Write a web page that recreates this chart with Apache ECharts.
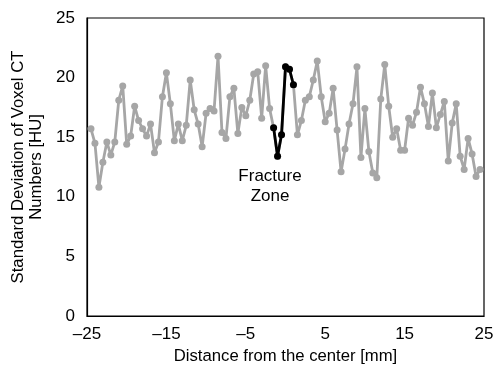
<!DOCTYPE html>
<html>
<head>
<meta charset="utf-8">
<script src="https://cdn.jsdelivr.net/npm/echarts@6/dist/echarts.min.js"></script>
<style>html,body{margin:0;padding:0;background:#fff;}#c{width:494px;height:367px;}</style>
</head>
<body>
<div id="c"></div>
<script>
var distances = [-24.5,-24,-23.5,-23,-22.5,-22,-21.5,-21,-20.5,-20,-19.5,-19,-18.5,-18,-17.5,-17,-16.5,-16,-15.5,-15,-14.5,-14,-13.5,-13,-12.5,-12,-11.5,-11,-10.5,-10,-9.5,-9,-8.5,-8,-7.5,-7,-6.5,-6,-5.5,-5,-4.5,-4,-3.5,-3,-2.5,-2,-1.5,-1,-0.5,0,0.5,1,1.5,2,2.5,3,3.5,4,4.5,5,5.5,6,6.5,7,7.5,8,8.5,9,9.5,10,10.5,11,11.5,12,12.5,13,13.5,14,14.5,15,15.5,16,16.5,17,17.5,18,18.5,19,19.5,20,20.5,21,21.5,22,22.5,23,23.5,24,24.5];
var stdDev = [15.7,14.5,10.8,12.9,14.6,13.5,14.6,18.1,19.3,14.4,15.1,17.6,16.4,15.7,15.1,16.1,13.7,14.6,18.4,20.4,17.8,14.7,16.1,14.7,16.0,19.8,17.3,16.1,14.2,17.0,17.4,17.2,21.8,15.4,14.9,18.4,19.1,15.3,17.5,16.8,18.1,20.3,20.5,16.6,21.0,17.4,15.8,13.4,15.2,20.9,20.7,19.4,15.2,16.4,18.1,18.4,19.8,21.4,18.4,16.3,17.0,19.1,15.6,12.1,14.0,16.1,17.8,20.9,13.3,17.4,13.8,12.0,11.6,18.2,21.1,17.6,15.0,15.7,13.9,13.9,16.6,16.0,17.1,19.2,17.8,15.9,18.7,15.8,16.9,18.0,13.0,16.2,17.8,13.4,12.3,14.9,13.6,11.7,12.3];
var fractureDistances = [-1.5,-1,-0.5,0,0.5,1];
var fractureStdDev = [15.8,13.4,15.2,20.9,20.7,19.4];
var xTickValues = [-25,-15,-5,5,15,25];
var xTickLabels = ['\u201325','\u201315','\u20135','5','15','25'];
var yTickLabels = ['0','5','10','15','20','25'];
var annotation = 'Fracture\nZone';

var gray = [], black = [];
for (var i = 0; i < distances.length; i++) gray.push([distances[i], stdDev[i]]);
for (var j = 0; j < fractureDistances.length; j++) black.push([fractureDistances[j], fractureStdDev[j]]);

var font = 'Liberation Sans, Arial, sans-serif';
var chart = echarts.init(document.getElementById('c'), null, {renderer: 'canvas'});
chart.setOption({
  animation: false,
  backgroundColor: '#fff',
  grid: {left: 87, right: 10, top: 18, bottom: 51, outerBoundsMode: 'none', containLabel: false,
         show: true, borderColor: '#000', borderWidth: 1.2, backgroundColor: 'transparent'},
  xAxis: {
    type: 'value', min: -25, max: 25, interval: 5,
    name: 'Distance from the center [mm]', nameLocation: 'middle', nameGap: 30,
    nameTextStyle: {fontFamily: font, fontSize: 16.7, color: '#000'},
    axisLine: {show: true, onZero: false, lineStyle: {color: '#000', width: 1.2}},
    axisTick: {show: false},
    splitLine: {show: false},
    axisLabel: {
      fontFamily: font, fontSize: 17, color: '#000', margin: 10,
      formatter: function (v) { var k = xTickValues.indexOf(v); return k >= 0 ? xTickLabels[k] : ''; }
    }
  },
  yAxis: {
    type: 'value', min: 0, max: 25, interval: 5,
    name: 'Standard Deviation of Voxel CT\nNumbers [HU]', nameLocation: 'middle', nameGap: 31, nameRotate: 90,
    nameTextStyle: {fontFamily: font, fontSize: 16.7, color: '#000', lineHeight: 18},
    axisLine: {show: true, onZero: false, lineStyle: {color: '#000', width: 1.2}},
    axisTick: {show: false},
    splitLine: {show: false},
    axisLabel: {
      fontFamily: font, fontSize: 17, color: '#000', margin: 12,
      formatter: function (v) { return yTickLabels[v / 5]; }
    }
  },
  series: [
    {type: 'line', data: gray, symbol: 'circle', symbolSize: 7, z: 2,
     lineStyle: {color: '#a6a6a6', width: 2.8}, itemStyle: {color: '#a6a6a6'}},
    {type: 'line', data: black, symbol: 'circle', symbolSize: 7, z: 3,
     lineStyle: {color: '#000', width: 2.8}, itemStyle: {color: '#000'}}
  ],
  graphic: [{
    type: 'text', x: 270, y: 166, z: 10,
    style: {text: annotation, fontFamily: font, fontSize: 17, fill: '#000',
            align: 'center', textAlign: 'center', verticalAlign: 'top', lineHeight: 20}
  }]
});
</script>
</body>
</html>
